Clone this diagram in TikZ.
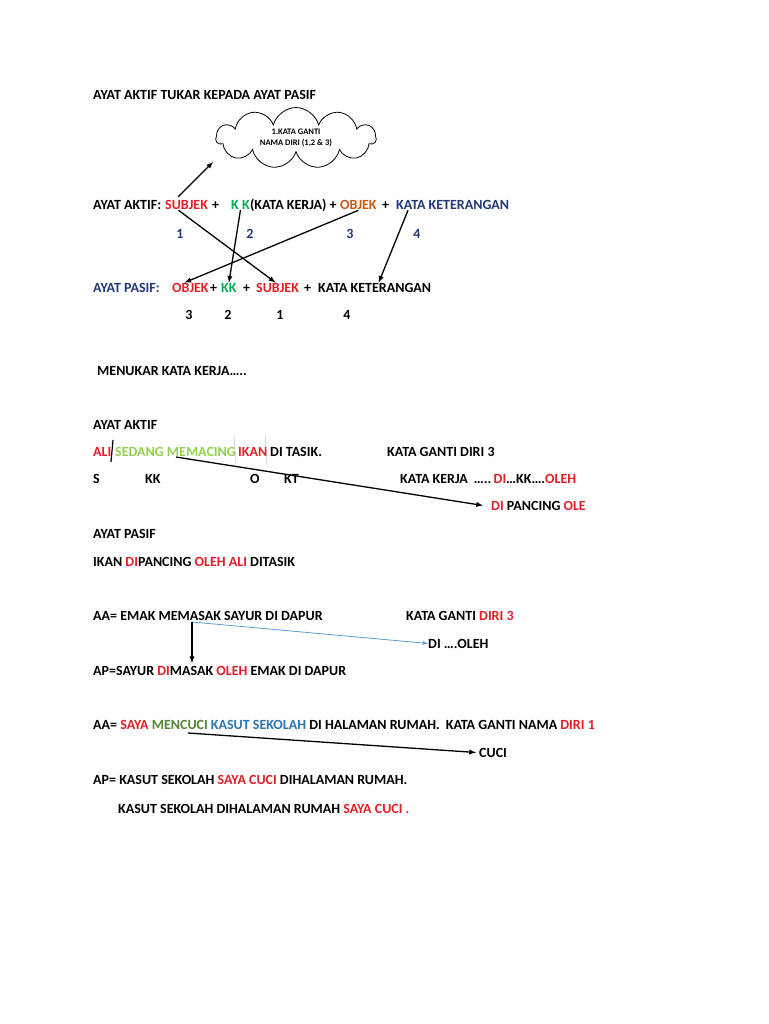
\documentclass[tikz,border=0pt]{standalone}
\usepackage{fontspec}
\setmainfont{Carlito}
\usetikzlibrary{shapes.symbols,positioning,arrows}
\definecolor{tred}{RGB}{228,30,38}
\definecolor{tgreen}{RGB}{0,176,80}
\definecolor{torange}{RGB}{197,90,17}
\definecolor{tnavy}{RGB}{31,56,120}
\definecolor{tlgreen}{RGB}{146,208,80}
\definecolor{tblue}{RGB}{46,116,181}
\definecolor{tdgreen}{RGB}{84,130,53}
\definecolor{tsky}{RGB}{91,155,213}
\tikzset{
  txt/.style={anchor=base west,inner sep=0pt,font=\fontsize{14}{16}\selectfont\bfseries},
  arrow/.style={line width=1.3pt,-latex},
}
\newcommand{\rd}[1]{\textcolor{tred}{#1}}
\begin{document}
\begin{tikzpicture}[x=1pt,y=-1pt]
\useasboundingbox (0,0) rectangle (768,1024);

% Title and cloud
\node[txt] (title) at (93,100) {AYAT AKTIF TUKAR KEPADA AYAT PASIF};
\node[cloud,draw,thick,cloud puffs=11,aspect=2.9,minimum width=160pt,minimum height=56pt,
      align=center,font=\fontsize{8.5}{11}\selectfont\bfseries] (cloud) at (296,138)
      {1.KATA GANTI\\NAMA DIRI (1,2 \& 3)};
\coordinate (cloudtip) at (213,162);

% Ayat aktif
\node[txt] (aktif) at (93,210) {AYAT AKTIF:};
\node[txt,tred] (subA) at (165,210) {SUBJEK};
\node[txt] (p1) at (212,210) {+};
\node[txt,tgreen] (kkA) at (231,210) {K K};
\node[txt] (kkx) at (kkA.base east) {(KATA KERJA) +};
\node[txt,torange] (objA) at (340,210) {OBJEK};
\node[txt] (p2) at (382,210) {+};
\node[txt,tnavy] (ketA) at (396,210) {KATA KETERANGAN};
\foreach \x/\n in {180/1,250/2,350/3,417/4}
  \node[txt,tnavy,anchor=base] at (\x,238) {\n};

% Ayat pasif
\node[txt,tnavy] (pasif) at (93,292) {AYAT PASIF:};
\node[txt,tred] (objP) at (172,292) {OBJEK};
\node[txt] (p3) at (210,292) {+};
\node[txt,tgreen] (kkP) at (221,292) {KK};
\node[txt] (p4) at (243,292) {+};
\node[txt,tred] (subP) at (256,292) {SUBJEK};
\node[txt] (p5) at (304,292) {+};
\node[txt] (ketP) at (318,292) {KATA KETERANGAN};
\foreach \x/\n in {189/3,228/2,280/1,347/4}
  \node[txt,anchor=base] at (\x,319) {\n};

% Arrows
\draw[arrow] (178,197) -- (cloudtip);
\draw[arrow] ([xshift=-8pt]subA.south) -- ([xshift=-2pt]subP.north);
\draw[arrow] (kkA.south) -- (kkP.north);
\draw[arrow] (objA.south) -- ([xshift=-6pt]objP.north);
\draw[arrow] ([xshift=12pt]ketA.south west) -- ([xshift=4pt]ketP.north);

\node[txt] (menukar) at (97,375) {MENUKAR KATA KERJA\dots..};

% Ali
\node[txt] (aa1) at (93,429) {AYAT AKTIF};
\node[txt,tred] (ali) at (93,456) {ALI};
\node[txt,tlgreen] (sedang) at (115,456) {SEDANG MEMACING};
\node[txt,tred] (ikan) at (238,456) {IKAN};
\node[txt] (tasik) at (270,456) {DI TASIK.};
\node[txt] (kg3) at (387,456) {KATA GANTI DIRI 3};
\draw[line width=1.2pt] (113,440) -- (111,462);
\draw[tsky,very thin] (234,436) -- (236,466);
\draw[tsky,very thin] (265,436) -- (267,466);
\foreach \x/\t in {93/S,145/KK,250/O,284/KT}
  \node[txt] at (\x,483) {\t};
\node[txt] (kk1) at (400,483) {KATA KERJA\kern6pt\dots..\,\rd{DI}\dots KK\dots.\rd{OLEH}};
\coordinate (memacing) at (176,457);
\node[txt] (dipancing) at (491,510) {\rd{DI} PANCING \rd{OLE}};
\draw[arrow] (memacing) -- ([xshift=-8pt]dipancing.west);
\node[txt] (ap1) at (93,538) {AYAT PASIF};
\node[txt] (ap1s) at (93,566) {IKAN \rd{DI}PANCING \rd{OLEH ALI} DITASIK};

% Emak
\node[txt] (aa2) at (93,620) {AA= EMAK MEMASAK SAYUR DI DAPUR};
\node[txt] (kg3b) at (406,620) {KATA GANTI \rd{DIRI 3}};
\coordinate (memasak) at (192,622);
\node[txt] (dioleh) at (428,648) {DI \dots.OLEH};
\node[txt] (ap2) at (93,675) {AP=SAYUR \rd{DI}MASAK \rd{OLEH} EMAK DI DAPUR};
\draw[tsky,line width=0.8pt,-latex] (memasak) -- (dioleh.west);
\draw[arrow] (memasak) -- (192,663);

% Saya
\node[txt] (aa3) at (93,729) {AA= \rd{SAYA} \textcolor{tdgreen}{MENCUCI} \textcolor{tblue}{KASUT SEKOLAH} DI HALAMAN RUMAH.\kern6pt KATA GANTI NAMA \rd{DIRI 1}};
\coordinate (mencuci) at (188,733);
\node[txt] (cuci) at (479,757) {CUCI};
\draw[arrow] (mencuci) -- ([xshift=-3pt]cuci.west);
\node[txt] (ap3) at (93,784) {AP= KASUT SEKOLAH \rd{SAYA CUCI} DIHALAMAN RUMAH.};
\node[txt] (ap3b) at (118,813) {KASUT SEKOLAH DIHALAMAN RUMAH \rd{SAYA CUCI .}};
\end{tikzpicture}
\end{document}
